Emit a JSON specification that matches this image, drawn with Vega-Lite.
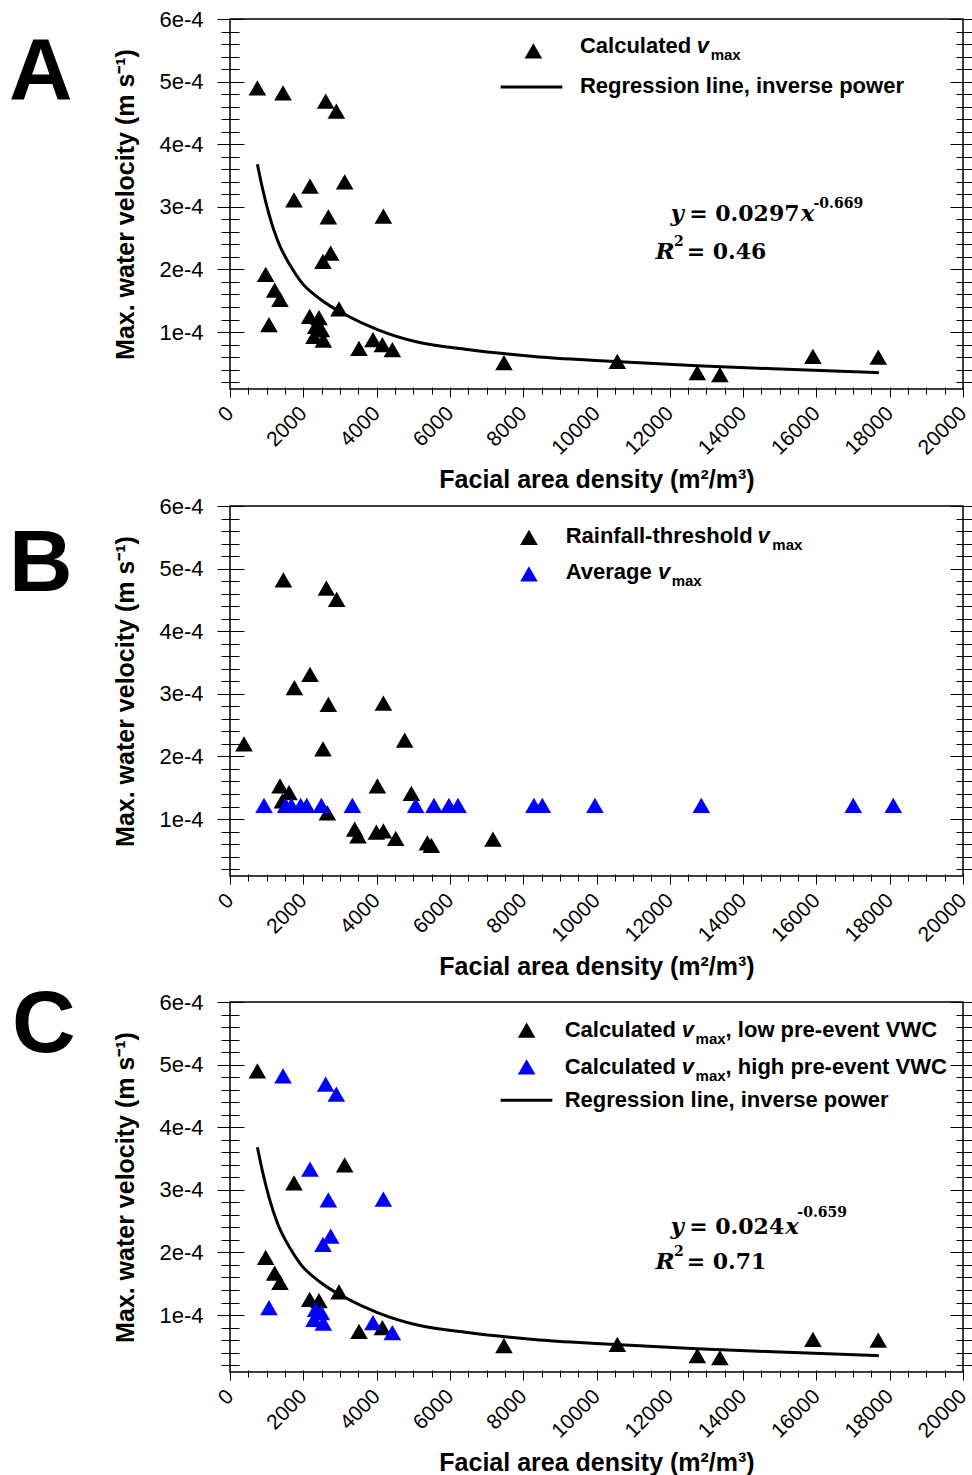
{
  "$schema": "https://vega.github.io/schema/vega-lite/v6.json",
  "background": "white",
  "padding": {"left": 8, "top": 7, "right": 0, "bottom": 0},
  "autosize": {"type": "pad"},
  "spacing": 0,
  "config": {
    "font": "Liberation Sans",
    "view": {"stroke": "#000", "strokeWidth": 1.5},
    "axis": {"domain": false, "grid": false, "tickColor": "#000", "tickWidth": 1, "labelColor": "#000", "titleColor": "#000", "labelFont": "Liberation Sans", "titleFont": "Liberation Sans", "labelFlush": false, "labelOverlap": false, "labelBound": false}
  },
  "datasets": {
    "obs": [
      {"x": 747, "y": 0.000490, "vwc": "low"},
      {"x": 1746, "y": 0.000311, "vwc": "low"},
      {"x": 3129, "y": 0.000340, "vwc": "low"},
      {"x": 974, "y": 0.000192, "vwc": "low"},
      {"x": 1219, "y": 0.000167, "vwc": "low"},
      {"x": 1364, "y": 0.000152, "vwc": "low"},
      {"x": 2974, "y": 0.000137, "vwc": "low"},
      {"x": 2174, "y": 0.000125, "vwc": "low"},
      {"x": 2428, "y": 0.000123, "vwc": "low"},
      {"x": 3520, "y": 0.000074, "vwc": "low"},
      {"x": 4157, "y": 0.000080, "vwc": "low"},
      {"x": 7475, "y": 0.000051, "vwc": "low"},
      {"x": 10568, "y": 0.000053, "vwc": "low"},
      {"x": 12751, "y": 0.000035, "vwc": "low"},
      {"x": 13367, "y": 0.000032, "vwc": "low"},
      {"x": 15905, "y": 0.000061, "vwc": "low"},
      {"x": 17688, "y": 0.000060, "vwc": "low"},
      {"x": 1447, "y": 0.000482, "vwc": "high"},
      {"x": 2611, "y": 0.000469, "vwc": "high"},
      {"x": 2902, "y": 0.000453, "vwc": "high"},
      {"x": 2183, "y": 0.000333, "vwc": "high"},
      {"x": 2684, "y": 0.000284, "vwc": "high"},
      {"x": 4185, "y": 0.000285, "vwc": "high"},
      {"x": 2747, "y": 0.000226, "vwc": "high"},
      {"x": 2537, "y": 0.000213, "vwc": "high"},
      {"x": 1064, "y": 0.000112, "vwc": "high"},
      {"x": 2338, "y": 0.000109, "vwc": "high"},
      {"x": 2493, "y": 0.000104, "vwc": "high"},
      {"x": 2292, "y": 0.000093, "vwc": "high"},
      {"x": 2547, "y": 0.000087, "vwc": "high"},
      {"x": 3901, "y": 0.000088, "vwc": "high"},
      {"x": 4430, "y": 0.000072, "vwc": "high"}
    ],
    "bpts": [
      {"x": 382, "y": 0.000220, "s": "thr"},
      {"x": 1457, "y": 0.000482, "s": "thr"},
      {"x": 2630, "y": 0.000469, "s": "thr"},
      {"x": 2911, "y": 0.000451, "s": "thr"},
      {"x": 2183, "y": 0.000331, "s": "thr"},
      {"x": 1757, "y": 0.000310, "s": "thr"},
      {"x": 2684, "y": 0.000283, "s": "thr"},
      {"x": 4185, "y": 0.000285, "s": "thr"},
      {"x": 4766, "y": 0.000226, "s": "thr"},
      {"x": 2537, "y": 0.000212, "s": "thr"},
      {"x": 1364, "y": 0.000153, "s": "thr"},
      {"x": 4021, "y": 0.000153, "s": "thr"},
      {"x": 1610, "y": 0.000142, "s": "thr"},
      {"x": 4948, "y": 0.000141, "s": "thr"},
      {"x": 1429, "y": 0.000129, "s": "thr"},
      {"x": 2657, "y": 0.000110, "s": "thr"},
      {"x": 3402, "y": 0.000084, "s": "thr"},
      {"x": 3492, "y": 0.000073, "s": "thr"},
      {"x": 3994, "y": 0.000079, "s": "thr"},
      {"x": 4185, "y": 0.000081, "s": "thr"},
      {"x": 4521, "y": 0.000069, "s": "thr"},
      {"x": 5385, "y": 0.000062, "s": "thr"},
      {"x": 5494, "y": 0.000058, "s": "thr"},
      {"x": 7175, "y": 0.000068, "s": "thr"},
      {"x": 928, "y": 0.000122, "s": "avg"},
      {"x": 1520, "y": 0.000122, "s": "avg"},
      {"x": 1675, "y": 0.000122, "s": "avg"},
      {"x": 1929, "y": 0.000122, "s": "avg"},
      {"x": 2092, "y": 0.000122, "s": "avg"},
      {"x": 2493, "y": 0.000122, "s": "avg"},
      {"x": 3339, "y": 0.000122, "s": "avg"},
      {"x": 5066, "y": 0.000122, "s": "avg"},
      {"x": 5565, "y": 0.000122, "s": "avg"},
      {"x": 5974, "y": 0.000122, "s": "avg"},
      {"x": 6220, "y": 0.000122, "s": "avg"},
      {"x": 8293, "y": 0.000122, "s": "avg"},
      {"x": 8522, "y": 0.000122, "s": "avg"},
      {"x": 9957, "y": 0.000122, "s": "avg"},
      {"x": 12860, "y": 0.000122, "s": "avg"},
      {"x": 17006, "y": 0.000122, "s": "avg"},
      {"x": 18098, "y": 0.000122, "s": "avg"}
    ],
    "fit": [
      {"x": 747, "y": 0.000368},
      {"x": 884, "y": 0.000330},
      {"x": 1064, "y": 0.000288},
      {"x": 1293, "y": 0.000247},
      {"x": 1656, "y": 0.000205},
      {"x": 1929, "y": 0.000181},
      {"x": 2474, "y": 0.000152},
      {"x": 3203, "y": 0.000126},
      {"x": 4021, "y": 0.000104},
      {"x": 5112, "y": 0.000084},
      {"x": 6476, "y": 0.000072},
      {"x": 8293, "y": 0.000061},
      {"x": 10113, "y": 0.000054},
      {"x": 12751, "y": 0.000046},
      {"x": 15932, "y": 0.000039},
      {"x": 17705, "y": 0.000035}
    ],
    "keys": [
      {"p": "A", "x": 8277, "y": 0.0005489, "s": "calc"},
      {"p": "B", "x": 8157, "y": 0.0005500, "s": "thr"},
      {"p": "B", "x": 8157, "y": 0.0004914, "s": "avg"},
      {"p": "C", "x": 8094, "y": 0.0005551, "s": "low"},
      {"p": "C", "x": 8094, "y": 0.0004963, "s": "high"}
    ],
    "keylines": [
      {"p": "A", "x": 7385, "x2": 9068, "y": 0.0004914},
      {"p": "C", "x": 7385, "x2": 8795, "y": 0.0004429}
    ],
    "notes": [
      {"p": "A", "r": "word", "x": 9548, "y": 0.0005452, "t": "Calculated"},
      {"p": "A", "r": "word", "x": 9548, "y": 0.0004823, "t": "Regression line, inverse power"},
      {"p": "A", "r": "var", "x": 12732, "y": 0.0005452, "t": "v"},
      {"p": "A", "r": "sub", "x": 13114, "y": 0.0005340, "t": "max"},
      {"p": "A", "r": "eqvar", "x": 12022, "y": 0.0002773, "t": "y"},
      {"p": "A", "r": "eqnum", "x": 12530, "y": 0.0002773, "t": "= 0.0297"},
      {"p": "A", "r": "eqvar", "x": 15570, "y": 0.0002773, "t": "x"},
      {"p": "A", "r": "sup", "x": 15920, "y": 0.0002986, "t": "-0.669"},
      {"p": "A", "r": "eqvar", "x": 11613, "y": 0.0002161, "t": "R"},
      {"p": "A", "r": "sup", "x": 12112, "y": 0.0002374, "t": "2"},
      {"p": "A", "r": "eqnum", "x": 12460, "y": 0.0002161, "t": "= 0.46"},
      {"p": "A", "r": "letter", "x": -5164, "y": 0.000472, "t": "A"},
      {"p": "B", "r": "word", "x": 9158, "y": 0.0005404, "t": "Rainfall-threshold"},
      {"p": "B", "r": "word", "x": 9158, "y": 0.0004834, "t": "Average"},
      {"p": "B", "r": "var", "x": 14395, "y": 0.0005404, "t": "v"},
      {"p": "B", "r": "var", "x": 11681, "y": 0.0004834, "t": "v"},
      {"p": "B", "r": "sub", "x": 14797, "y": 0.0005292, "t": "max"},
      {"p": "B", "r": "sub", "x": 12050, "y": 0.0004722, "t": "max"},
      {"p": "B", "r": "letter", "x": -5164, "y": 0.000464, "t": "B"},
      {"p": "C", "r": "word", "x": 9131, "y": 0.0005444, "t": "Calculated"},
      {"p": "C", "r": "word", "x": 9131, "y": 0.0004857, "t": "Calculated"},
      {"p": "C", "r": "word", "x": 9131, "y": 0.0004322, "t": "Regression line, inverse power"},
      {"p": "C", "r": "word", "x": 13523, "y": 0.0005444, "t": ", low pre-event VWC"},
      {"p": "C", "r": "word", "x": 13523, "y": 0.0004857, "t": ", high pre-event VWC"},
      {"p": "C", "r": "var", "x": 12323, "y": 0.0005444, "t": "v"},
      {"p": "C", "r": "var", "x": 12323, "y": 0.0004857, "t": "v"},
      {"p": "C", "r": "sub", "x": 12704, "y": 0.0005332, "t": "max"},
      {"p": "C", "r": "sub", "x": 12704, "y": 0.0004745, "t": "max"},
      {"p": "C", "r": "eqvar", "x": 12022, "y": 0.0002293, "t": "y"},
      {"p": "C", "r": "eqnum", "x": 12530, "y": 0.0002293, "t": "= 0.024"},
      {"p": "C", "r": "eqvar", "x": 15150, "y": 0.0002293, "t": "x"},
      {"p": "C", "r": "sup", "x": 15480, "y": 0.0002559, "t": "-0.659"},
      {"p": "C", "r": "eqvar", "x": 11613, "y": 0.0001732, "t": "R"},
      {"p": "C", "r": "sup", "x": 12112, "y": 0.0001946, "t": "2"},
      {"p": "C", "r": "eqnum", "x": 12460, "y": 0.0001732, "t": "= 0.71"},
      {"p": "C", "r": "letter", "x": -5082, "y": 0.000520, "t": "C"}
    ]
  },
  "vconcat": [
    {
      "width": 733, "height": 370,
      "resolve": {"axis": {"x": "independent", "y": "independent"}},
      "layer": [
        {
          "data": {"name": "obs"},
          "mark": {"type": "point", "shape": "triangle-up", "filled": true, "size": 310, "opacity": 1, "strokeWidth": 0, "color": "#000"},
          "encoding": {
            "x": {"field": "x", "type": "quantitative", "scale": {"domain": [0, 20000], "nice": false, "zero": false},
              "axis": {"orient": "bottom", "offset": -2, "values": [0, 2000, 4000, 6000, 8000, 10000, 12000, 14000, 16000, 18000, 20000], "format": "d", "labelAngle": -45, "labelAlign": "right", "labelBaseline": "middle", "labelFontSize": 21, "labelPadding": 13, "tickSize": 10, "title": "Facial area density (m²/m³)", "titleFontSize": 25, "titleFontWeight": "bold", "titlePadding": 9}},
            "y": {"field": "y", "type": "quantitative", "scale": {"domain": [0.000009, 0.0006], "nice": false, "zero": false},
              "axis": {"orient": "left", "offset": -14, "values": [0.0001, 0.0002, 0.0003, 0.0004, 0.0005, 0.0006], "format": ".0e", "labelFontSize": 22, "labelPadding": 14, "tickSize": 27, "title": "Max. water velocity (m s⁻¹)", "titleFontSize": 25, "titleFontWeight": "bold", "titlePadding": 20}}
          }
        },
        {
          "data": {"name": "fit"},
          "mark": {"type": "line", "color": "#000", "strokeWidth": 3, "interpolate": "monotone"},
          "encoding": {
            "x": {"field": "x", "type": "quantitative", "scale": {"domain": [0, 20000], "nice": false, "zero": false},
              "axis": {"orient": "bottom", "offset": -2, "values": [500, 1000, 1500, 2500, 3000, 3500, 4500, 5000, 5500, 6500, 7000, 7500, 8500, 9000, 9500, 10500, 11000, 11500, 12500, 13000, 13500, 14500, 15000, 15500, 16500, 17000, 17500, 18500, 19000, 19500], "labels": false, "tickSize": 7, "title": null}},
            "y": {"field": "y", "type": "quantitative", "scale": {"domain": [0.000009, 0.0006], "nice": false, "zero": false},
              "axis": {"orient": "left", "offset": -9, "values": [0.00002, 0.00004, 0.00006, 0.00008, 0.00012, 0.00014, 0.00016, 0.00018, 0.00022, 0.00024, 0.00026, 0.00028, 0.00032, 0.00034, 0.00036, 0.00038, 0.00042, 0.00044, 0.00046, 0.00048, 0.00052, 0.00054, 0.00056, 0.00058], "labels": false, "tickSize": 18, "title": null}}
          }
        },
        {
          "data": {"name": "keys"},
          "transform": [{"filter": "datum.p === 'A'"}],
          "mark": {"type": "point", "shape": "triangle-up", "filled": true, "size": 310, "opacity": 1, "strokeWidth": 0},
          "encoding": {
            "x": {"field": "x", "type": "quantitative", "scale": {"domain": [0, 20000], "nice": false, "zero": false}, "axis": null},
            "y": {"field": "y", "type": "quantitative", "scale": {"domain": [0.000009, 0.0006], "nice": false, "zero": false},
              "axis": {"orient": "right", "offset": -13, "values": [0.0001, 0.0002, 0.0003, 0.0004, 0.0005, 0.0006], "labels": false, "tickSize": 22, "title": null}},
            "color": {"field": "s", "type": "nominal", "scale": {"domain": ["calc", "thr", "low", "avg", "high"], "range": ["#000000", "#000000", "#000000", "#0000ff", "#0000ff"]}, "legend": null}
          }
        },
        {
          "data": {"name": "keylines"},
          "transform": [{"filter": "datum.p === 'A'"}],
          "mark": {"type": "rule", "color": "#000", "strokeWidth": 3},
          "encoding": {
            "x": {"field": "x", "type": "quantitative", "scale": {"domain": [0, 20000], "nice": false, "zero": false}, "axis": null},
            "x2": {"field": "x2"},
            "y": {"field": "y", "type": "quantitative", "scale": {"domain": [0.000009, 0.0006], "nice": false, "zero": false},
              "axis": {"orient": "right", "offset": -7, "values": [0.00002, 0.00004, 0.00006, 0.00008, 0.00012, 0.00014, 0.00016, 0.00018, 0.00022, 0.00024, 0.00026, 0.00028, 0.00032, 0.00034, 0.00036, 0.00038, 0.00042, 0.00044, 0.00046, 0.00048, 0.00052, 0.00054, 0.00056, 0.00058], "labels": false, "tickSize": 16, "title": null}}
          }
        },
        {
          "data": {"name": "notes"},
          "transform": [{"filter": "datum.p === 'A' && datum.r === 'word'"}],
          "mark": {"type": "text", "font": "Liberation Sans", "fontWeight": "bold", "fontSize": 22, "align": "left", "baseline": "alphabetic", "color": "#000"},
          "encoding": {
            "x": {"field": "x", "type": "quantitative", "scale": {"domain": [0, 20000], "nice": false, "zero": false}, "axis": null},
            "y": {"field": "y", "type": "quantitative", "scale": {"domain": [0.000009, 0.0006], "nice": false, "zero": false}, "axis": null},
            "text": {"field": "t"}
          }
        },
        {
          "data": {"name": "notes"},
          "transform": [{"filter": "datum.p === 'A' && datum.r === 'var'"}],
          "mark": {"type": "text", "font": "Liberation Sans", "fontWeight": "bold", "fontStyle": "italic", "fontSize": 22, "align": "left", "baseline": "alphabetic", "color": "#000"},
          "encoding": {
            "x": {"field": "x", "type": "quantitative", "scale": {"domain": [0, 20000], "nice": false, "zero": false}, "axis": null},
            "y": {"field": "y", "type": "quantitative", "scale": {"domain": [0.000009, 0.0006], "nice": false, "zero": false}, "axis": null},
            "text": {"field": "t"}
          }
        },
        {
          "data": {"name": "notes"},
          "transform": [{"filter": "datum.p === 'A' && datum.r === 'sub'"}],
          "mark": {"type": "text", "font": "Liberation Sans", "fontWeight": "bold", "fontSize": 15, "align": "left", "baseline": "alphabetic", "color": "#000"},
          "encoding": {
            "x": {"field": "x", "type": "quantitative", "scale": {"domain": [0, 20000], "nice": false, "zero": false}, "axis": null},
            "y": {"field": "y", "type": "quantitative", "scale": {"domain": [0.000009, 0.0006], "nice": false, "zero": false}, "axis": null},
            "text": {"field": "t"}
          }
        },
        {
          "data": {"name": "notes"},
          "transform": [{"filter": "datum.p === 'A' && datum.r === 'eqvar'"}],
          "mark": {"type": "text", "font": "DejaVu Serif", "fontWeight": "bold", "fontStyle": "italic", "fontSize": 23, "align": "left", "baseline": "alphabetic", "color": "#000"},
          "encoding": {
            "x": {"field": "x", "type": "quantitative", "scale": {"domain": [0, 20000], "nice": false, "zero": false}, "axis": null},
            "y": {"field": "y", "type": "quantitative", "scale": {"domain": [0.000009, 0.0006], "nice": false, "zero": false}, "axis": null},
            "text": {"field": "t"}
          }
        },
        {
          "data": {"name": "notes"},
          "transform": [{"filter": "datum.p === 'A' && datum.r === 'eqnum'"}],
          "mark": {"type": "text", "font": "DejaVu Serif", "fontWeight": "bold", "fontSize": 22, "align": "left", "baseline": "alphabetic", "color": "#000"},
          "encoding": {
            "x": {"field": "x", "type": "quantitative", "scale": {"domain": [0, 20000], "nice": false, "zero": false}, "axis": null},
            "y": {"field": "y", "type": "quantitative", "scale": {"domain": [0.000009, 0.0006], "nice": false, "zero": false}, "axis": null},
            "text": {"field": "t"}
          }
        },
        {
          "data": {"name": "notes"},
          "transform": [{"filter": "datum.p === 'A' && datum.r === 'sup'"}],
          "mark": {"type": "text", "font": "DejaVu Serif", "fontWeight": "bold", "fontSize": 14, "align": "left", "baseline": "alphabetic", "color": "#000"},
          "encoding": {
            "x": {"field": "x", "type": "quantitative", "scale": {"domain": [0, 20000], "nice": false, "zero": false}, "axis": null},
            "y": {"field": "y", "type": "quantitative", "scale": {"domain": [0.000009, 0.0006], "nice": false, "zero": false}, "axis": null},
            "text": {"field": "t"}
          }
        },
        {
          "data": {"name": "notes"},
          "transform": [{"filter": "datum.p === 'A' && datum.r === 'letter'"}],
          "mark": {"type": "text", "font": "Liberation Sans", "fontWeight": "bold", "fontSize": 88, "align": "center", "baseline": "alphabetic", "color": "#000"},
          "encoding": {
            "x": {"field": "x", "type": "quantitative", "scale": {"domain": [0, 20000], "nice": false, "zero": false}, "axis": null},
            "y": {"field": "y", "type": "quantitative", "scale": {"domain": [0.000009, 0.0006], "nice": false, "zero": false}, "axis": null},
            "text": {"field": "t"}
          }
        }
      ]
    },
    {
      "width": 733, "height": 370,
      "resolve": {"axis": {"x": "independent", "y": "independent"}},
      "layer": [
        {
          "data": {"name": "bpts"},
          "mark": {"type": "point", "shape": "triangle-up", "filled": true, "size": 310, "opacity": 1, "strokeWidth": 0},
          "encoding": {
            "x": {"field": "x", "type": "quantitative", "scale": {"domain": [0, 20000], "nice": false, "zero": false},
              "axis": {"orient": "bottom", "offset": -2, "values": [0, 2000, 4000, 6000, 8000, 10000, 12000, 14000, 16000, 18000, 20000], "format": "d", "labelAngle": -45, "labelAlign": "right", "labelBaseline": "middle", "labelFontSize": 21, "labelPadding": 13, "tickSize": 10, "title": "Facial area density (m²/m³)", "titleFontSize": 25, "titleFontWeight": "bold", "titlePadding": 9}},
            "y": {"field": "y", "type": "quantitative", "scale": {"domain": [0.000009, 0.0006], "nice": false, "zero": false},
              "axis": {"orient": "left", "offset": -14, "values": [0.0001, 0.0002, 0.0003, 0.0004, 0.0005, 0.0006], "format": ".0e", "labelFontSize": 22, "labelPadding": 14, "tickSize": 27, "title": "Max. water velocity (m s⁻¹)", "titleFontSize": 25, "titleFontWeight": "bold", "titlePadding": 20}},
            "color": {"field": "s", "type": "nominal", "scale": {"domain": ["calc", "thr", "low", "avg", "high"], "range": ["#000000", "#000000", "#000000", "#0000ff", "#0000ff"]}, "legend": null}
          }
        },
        {
          "data": {"name": "keys"},
          "transform": [{"filter": "datum.p === 'B'"}],
          "mark": {"type": "point", "shape": "triangle-up", "filled": true, "size": 310, "opacity": 1, "strokeWidth": 0},
          "encoding": {
            "x": {"field": "x", "type": "quantitative", "scale": {"domain": [0, 20000], "nice": false, "zero": false},
              "axis": {"orient": "bottom", "offset": -2, "values": [500, 1000, 1500, 2500, 3000, 3500, 4500, 5000, 5500, 6500, 7000, 7500, 8500, 9000, 9500, 10500, 11000, 11500, 12500, 13000, 13500, 14500, 15000, 15500, 16500, 17000, 17500, 18500, 19000, 19500], "labels": false, "tickSize": 7, "title": null}},
            "y": {"field": "y", "type": "quantitative", "scale": {"domain": [0.000009, 0.0006], "nice": false, "zero": false},
              "axis": {"orient": "left", "offset": -9, "values": [0.00002, 0.00004, 0.00006, 0.00008, 0.00012, 0.00014, 0.00016, 0.00018, 0.00022, 0.00024, 0.00026, 0.00028, 0.00032, 0.00034, 0.00036, 0.00038, 0.00042, 0.00044, 0.00046, 0.00048, 0.00052, 0.00054, 0.00056, 0.00058], "labels": false, "tickSize": 18, "title": null}},
            "color": {"field": "s", "type": "nominal", "scale": {"domain": ["calc", "thr", "low", "avg", "high"], "range": ["#000000", "#000000", "#000000", "#0000ff", "#0000ff"]}, "legend": null}
          }
        },
        {
          "data": {"name": "notes"},
          "transform": [{"filter": "datum.p === 'B' && datum.r === 'word'"}],
          "mark": {"type": "text", "font": "Liberation Sans", "fontWeight": "bold", "fontSize": 22, "align": "left", "baseline": "alphabetic", "color": "#000"},
          "encoding": {
            "x": {"field": "x", "type": "quantitative", "scale": {"domain": [0, 20000], "nice": false, "zero": false}, "axis": null},
            "y": {"field": "y", "type": "quantitative", "scale": {"domain": [0.000009, 0.0006], "nice": false, "zero": false},
              "axis": {"orient": "right", "offset": -13, "values": [0.0001, 0.0002, 0.0003, 0.0004, 0.0005, 0.0006], "labels": false, "tickSize": 22, "title": null}},
            "text": {"field": "t"}
          }
        },
        {
          "data": {"name": "notes"},
          "transform": [{"filter": "datum.p === 'B' && datum.r === 'var'"}],
          "mark": {"type": "text", "font": "Liberation Sans", "fontWeight": "bold", "fontStyle": "italic", "fontSize": 22, "align": "left", "baseline": "alphabetic", "color": "#000"},
          "encoding": {
            "x": {"field": "x", "type": "quantitative", "scale": {"domain": [0, 20000], "nice": false, "zero": false}, "axis": null},
            "y": {"field": "y", "type": "quantitative", "scale": {"domain": [0.000009, 0.0006], "nice": false, "zero": false},
              "axis": {"orient": "right", "offset": -7, "values": [0.00002, 0.00004, 0.00006, 0.00008, 0.00012, 0.00014, 0.00016, 0.00018, 0.00022, 0.00024, 0.00026, 0.00028, 0.00032, 0.00034, 0.00036, 0.00038, 0.00042, 0.00044, 0.00046, 0.00048, 0.00052, 0.00054, 0.00056, 0.00058], "labels": false, "tickSize": 16, "title": null}},
            "text": {"field": "t"}
          }
        },
        {
          "data": {"name": "notes"},
          "transform": [{"filter": "datum.p === 'B' && datum.r === 'sub'"}],
          "mark": {"type": "text", "font": "Liberation Sans", "fontWeight": "bold", "fontSize": 15, "align": "left", "baseline": "alphabetic", "color": "#000"},
          "encoding": {
            "x": {"field": "x", "type": "quantitative", "scale": {"domain": [0, 20000], "nice": false, "zero": false}, "axis": null},
            "y": {"field": "y", "type": "quantitative", "scale": {"domain": [0.000009, 0.0006], "nice": false, "zero": false}, "axis": null},
            "text": {"field": "t"}
          }
        },
        {
          "data": {"name": "notes"},
          "transform": [{"filter": "datum.p === 'B' && datum.r === 'letter'"}],
          "mark": {"type": "text", "font": "Liberation Sans", "fontWeight": "bold", "fontSize": 88, "align": "center", "baseline": "alphabetic", "color": "#000"},
          "encoding": {
            "x": {"field": "x", "type": "quantitative", "scale": {"domain": [0, 20000], "nice": false, "zero": false}, "axis": null},
            "y": {"field": "y", "type": "quantitative", "scale": {"domain": [0.000009, 0.0006], "nice": false, "zero": false}, "axis": null},
            "text": {"field": "t"}
          }
        }
      ]
    },
    {
      "width": 733, "height": 370,
      "resolve": {"axis": {"x": "independent", "y": "independent"}},
      "layer": [
        {
          "data": {"name": "obs"},
          "mark": {"type": "point", "shape": "triangle-up", "filled": true, "size": 310, "opacity": 1, "strokeWidth": 0},
          "encoding": {
            "x": {"field": "x", "type": "quantitative", "scale": {"domain": [0, 20000], "nice": false, "zero": false},
              "axis": {"orient": "bottom", "offset": -2, "values": [0, 2000, 4000, 6000, 8000, 10000, 12000, 14000, 16000, 18000, 20000], "format": "d", "labelAngle": -45, "labelAlign": "right", "labelBaseline": "middle", "labelFontSize": 21, "labelPadding": 13, "tickSize": 10, "title": "Facial area density (m²/m³)", "titleFontSize": 25, "titleFontWeight": "bold", "titlePadding": 9}},
            "y": {"field": "y", "type": "quantitative", "scale": {"domain": [0.000009, 0.0006], "nice": false, "zero": false},
              "axis": {"orient": "left", "offset": -14, "values": [0.0001, 0.0002, 0.0003, 0.0004, 0.0005, 0.0006], "format": ".0e", "labelFontSize": 22, "labelPadding": 14, "tickSize": 27, "title": "Max. water velocity (m s⁻¹)", "titleFontSize": 25, "titleFontWeight": "bold", "titlePadding": 20}},
            "color": {"field": "vwc", "type": "nominal", "scale": {"domain": ["calc", "thr", "low", "avg", "high"], "range": ["#000000", "#000000", "#000000", "#0000ff", "#0000ff"]}, "legend": null}
          }
        },
        {
          "data": {"name": "fit"},
          "mark": {"type": "line", "color": "#000", "strokeWidth": 3, "interpolate": "monotone"},
          "encoding": {
            "x": {"field": "x", "type": "quantitative", "scale": {"domain": [0, 20000], "nice": false, "zero": false},
              "axis": {"orient": "bottom", "offset": -2, "values": [500, 1000, 1500, 2500, 3000, 3500, 4500, 5000, 5500, 6500, 7000, 7500, 8500, 9000, 9500, 10500, 11000, 11500, 12500, 13000, 13500, 14500, 15000, 15500, 16500, 17000, 17500, 18500, 19000, 19500], "labels": false, "tickSize": 7, "title": null}},
            "y": {"field": "y", "type": "quantitative", "scale": {"domain": [0.000009, 0.0006], "nice": false, "zero": false},
              "axis": {"orient": "left", "offset": -9, "values": [0.00002, 0.00004, 0.00006, 0.00008, 0.00012, 0.00014, 0.00016, 0.00018, 0.00022, 0.00024, 0.00026, 0.00028, 0.00032, 0.00034, 0.00036, 0.00038, 0.00042, 0.00044, 0.00046, 0.00048, 0.00052, 0.00054, 0.00056, 0.00058], "labels": false, "tickSize": 18, "title": null}}
          }
        },
        {
          "data": {"name": "keys"},
          "transform": [{"filter": "datum.p === 'C'"}],
          "mark": {"type": "point", "shape": "triangle-up", "filled": true, "size": 310, "opacity": 1, "strokeWidth": 0},
          "encoding": {
            "x": {"field": "x", "type": "quantitative", "scale": {"domain": [0, 20000], "nice": false, "zero": false}, "axis": null},
            "y": {"field": "y", "type": "quantitative", "scale": {"domain": [0.000009, 0.0006], "nice": false, "zero": false},
              "axis": {"orient": "right", "offset": -13, "values": [0.0001, 0.0002, 0.0003, 0.0004, 0.0005, 0.0006], "labels": false, "tickSize": 22, "title": null}},
            "color": {"field": "s", "type": "nominal", "scale": {"domain": ["calc", "thr", "low", "avg", "high"], "range": ["#000000", "#000000", "#000000", "#0000ff", "#0000ff"]}, "legend": null}
          }
        },
        {
          "data": {"name": "keylines"},
          "transform": [{"filter": "datum.p === 'C'"}],
          "mark": {"type": "rule", "color": "#000", "strokeWidth": 3},
          "encoding": {
            "x": {"field": "x", "type": "quantitative", "scale": {"domain": [0, 20000], "nice": false, "zero": false}, "axis": null},
            "x2": {"field": "x2"},
            "y": {"field": "y", "type": "quantitative", "scale": {"domain": [0.000009, 0.0006], "nice": false, "zero": false},
              "axis": {"orient": "right", "offset": -7, "values": [0.00002, 0.00004, 0.00006, 0.00008, 0.00012, 0.00014, 0.00016, 0.00018, 0.00022, 0.00024, 0.00026, 0.00028, 0.00032, 0.00034, 0.00036, 0.00038, 0.00042, 0.00044, 0.00046, 0.00048, 0.00052, 0.00054, 0.00056, 0.00058], "labels": false, "tickSize": 16, "title": null}}
          }
        },
        {
          "data": {"name": "notes"},
          "transform": [{"filter": "datum.p === 'C' && datum.r === 'word'"}],
          "mark": {"type": "text", "font": "Liberation Sans", "fontWeight": "bold", "fontSize": 22, "align": "left", "baseline": "alphabetic", "color": "#000"},
          "encoding": {
            "x": {"field": "x", "type": "quantitative", "scale": {"domain": [0, 20000], "nice": false, "zero": false}, "axis": null},
            "y": {"field": "y", "type": "quantitative", "scale": {"domain": [0.000009, 0.0006], "nice": false, "zero": false}, "axis": null},
            "text": {"field": "t"}
          }
        },
        {
          "data": {"name": "notes"},
          "transform": [{"filter": "datum.p === 'C' && datum.r === 'var'"}],
          "mark": {"type": "text", "font": "Liberation Sans", "fontWeight": "bold", "fontStyle": "italic", "fontSize": 22, "align": "left", "baseline": "alphabetic", "color": "#000"},
          "encoding": {
            "x": {"field": "x", "type": "quantitative", "scale": {"domain": [0, 20000], "nice": false, "zero": false}, "axis": null},
            "y": {"field": "y", "type": "quantitative", "scale": {"domain": [0.000009, 0.0006], "nice": false, "zero": false}, "axis": null},
            "text": {"field": "t"}
          }
        },
        {
          "data": {"name": "notes"},
          "transform": [{"filter": "datum.p === 'C' && datum.r === 'sub'"}],
          "mark": {"type": "text", "font": "Liberation Sans", "fontWeight": "bold", "fontSize": 15, "align": "left", "baseline": "alphabetic", "color": "#000"},
          "encoding": {
            "x": {"field": "x", "type": "quantitative", "scale": {"domain": [0, 20000], "nice": false, "zero": false}, "axis": null},
            "y": {"field": "y", "type": "quantitative", "scale": {"domain": [0.000009, 0.0006], "nice": false, "zero": false}, "axis": null},
            "text": {"field": "t"}
          }
        },
        {
          "data": {"name": "notes"},
          "transform": [{"filter": "datum.p === 'C' && datum.r === 'eqvar'"}],
          "mark": {"type": "text", "font": "DejaVu Serif", "fontWeight": "bold", "fontStyle": "italic", "fontSize": 23, "align": "left", "baseline": "alphabetic", "color": "#000"},
          "encoding": {
            "x": {"field": "x", "type": "quantitative", "scale": {"domain": [0, 20000], "nice": false, "zero": false}, "axis": null},
            "y": {"field": "y", "type": "quantitative", "scale": {"domain": [0.000009, 0.0006], "nice": false, "zero": false}, "axis": null},
            "text": {"field": "t"}
          }
        },
        {
          "data": {"name": "notes"},
          "transform": [{"filter": "datum.p === 'C' && datum.r === 'eqnum'"}],
          "mark": {"type": "text", "font": "DejaVu Serif", "fontWeight": "bold", "fontSize": 22, "align": "left", "baseline": "alphabetic", "color": "#000"},
          "encoding": {
            "x": {"field": "x", "type": "quantitative", "scale": {"domain": [0, 20000], "nice": false, "zero": false}, "axis": null},
            "y": {"field": "y", "type": "quantitative", "scale": {"domain": [0.000009, 0.0006], "nice": false, "zero": false}, "axis": null},
            "text": {"field": "t"}
          }
        },
        {
          "data": {"name": "notes"},
          "transform": [{"filter": "datum.p === 'C' && datum.r === 'sup'"}],
          "mark": {"type": "text", "font": "DejaVu Serif", "fontWeight": "bold", "fontSize": 14, "align": "left", "baseline": "alphabetic", "color": "#000"},
          "encoding": {
            "x": {"field": "x", "type": "quantitative", "scale": {"domain": [0, 20000], "nice": false, "zero": false}, "axis": null},
            "y": {"field": "y", "type": "quantitative", "scale": {"domain": [0.000009, 0.0006], "nice": false, "zero": false}, "axis": null},
            "text": {"field": "t"}
          }
        },
        {
          "data": {"name": "notes"},
          "transform": [{"filter": "datum.p === 'C' && datum.r === 'letter'"}],
          "mark": {"type": "text", "font": "Liberation Sans", "fontWeight": "bold", "fontSize": 88, "align": "center", "baseline": "alphabetic", "color": "#000"},
          "encoding": {
            "x": {"field": "x", "type": "quantitative", "scale": {"domain": [0, 20000], "nice": false, "zero": false}, "axis": null},
            "y": {"field": "y", "type": "quantitative", "scale": {"domain": [0.000009, 0.0006], "nice": false, "zero": false}, "axis": null},
            "text": {"field": "t"}
          }
        }
      ]
    }
  ]
}
